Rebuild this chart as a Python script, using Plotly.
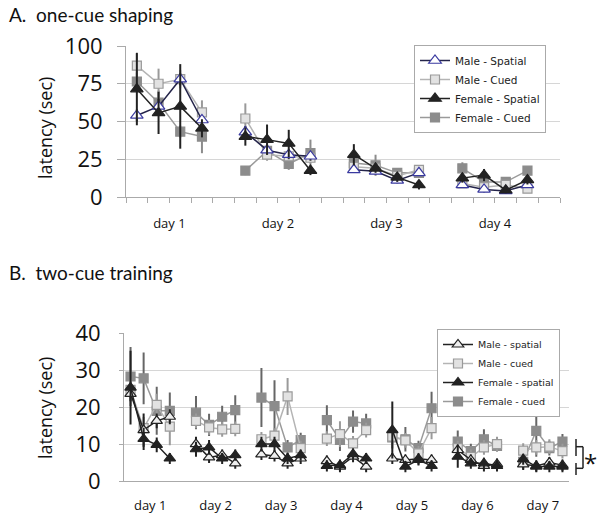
import plotly.graph_objects as go

# ---------------- data ----------------
days_a = ["day 1", "day 2", "day 3", "day 4"]
days_b = ["day 1", "day 2", "day 3", "day 4", "day 5", "day 6", "day 7"]

names_a = ["Male - Spatial", "Male - Cued", "Female - Spatial", "Female - Cued"]
names_b = ["Male - spatial", "Male - cued", "Female - spatial", "Female - cued"]

# Panel A: one-cue shaping (latency, sec); 4 trials per day
a_male_spatial = [[54, 60, 78, 51], [43, 31, 28, 27], [18, 17, 11, 16], [8, 5, 4, 8]]
a_male_cued = [[87, 75, 78, 56], [52, 28, 27, 26], [20, 19, 14, 18], [9, 6.5, 8, 5.5]]
a_female_spatial = [[71.5, 55.7, 60, 45.5], [40, 38, 35.5, 17.5], [28, 19, 13, 8], [12.5, 14.5, 4.5, 11.3]]
a_female_cued = [[76.5, 62.5, 43.3, 40], [17.5, 30.5, 22, 29], [22.5, 21, 16, 16], [19, 10, 10, 17.5]]

a_male_spatial_err = [[4, 5, 4, 3], [4, 3, 3, 3], [2, 2, 2, 2], [2, 2, 2, 2]]
a_male_cued_err = [[8, 10, 6, 8], [10, 4, 3, 3], [2, 2, 2, 2], [2, 2, 2, 2]]
a_female_spatial_err = [[24, 14, 28, 6], [6, 10, 9, 3], [7, 3, 3, 3], [3, 4, 2, 3]]
a_female_cued_err = [[6, 8, 4, 11], [3, 5, 4, 9], [4, 7, 2, 2], [4, 3, 2, 2]]

# Panel B: two-cue training (latency, sec); 4 trials per day
b_male_spatial = [[23.6, 13.8, 16.3, 17.4], [10, 6.4, 7, 4.8], [7.2, 6.8, 4.8, 6.1], [5.4, 3.9, 6.6, 3.9],
                  [6.1, 5.7, 6, 5.7], [8.4, 5.7, 4.1, 4.6], [4.5, 4.1, 5, 4.3]]
b_male_cued = [[24.7, 14.3, 20.6, 14.7], [16.3, 14.5, 14, 14.1], [11.3, 12.3, 22.9, 8.9], [11.5, 12.7, 10.2, 13.8],
               [12, 11, 7.5, 14.3], [8.9, 6.5, 9.1, 10], [8.2, 9.1, 9.3, 8.1]]
b_female_spatial = [[25.3, 11.4, 9.8, 6.1], [8.6, 9.1, 6.1, 7], [10, 10, 6.1, 7], [4.1, 4.3, 7.3, 6.1],
                    [13.8, 3.9, 5.7, 4.1], [6.6, 4.8, 4.8, 4.1], [5.9, 3.9, 3.9, 3.9]]
b_female_cued = [[28.3, 27.8, 19, 19], [18.5, 15.2, 17.4, 19.2], [22.6, 20.3, 9.1, 11.1], [16.5, 11.1, 16.1, 15.6],
                 [11.8, 11.3, 8.9, 19.7], [10.7, 8.1, 11.3, 9.5], [5.2, 13.6, 8.9, 10.7]]

b_male_spatial_err = [[2, 4.5, 2, 2], [2, 1.5, 1.5, 1.5], [1.5, 1.5, 1.5, 1.5], [1.5, 1.5, 1.5, 1.5],
                      [1.5, 1.5, 1.5, 1.5], [1.5, 1.5, 1.5, 1.5], [1.5, 1.5, 1.5, 1.5]]
b_male_cued_err = [[3, 3, 3, 5], [2, 2, 2, 2], [2, 2, 5, 2], [2, 3.5, 2, 2],
                   [2, 2, 2, 3], [2, 2, 2, 2], [2, 2, 2, 2]]
b_female_spatial_err = [[10, 3, 2, 1.5], [2, 2, 1.5, 1.5], [2, 2, 1.5, 1.5], [1.5, 1.5, 1.5, 1.5],
                        [7.7, 1.5, 1.5, 1.5], [3, 1.5, 1.5, 1.5], [1.5, 1.5, 1.5, 1.5]]
b_female_cued_err = [[8, 7, 6.5, 5], [4.5, 3, 3, 4], [8, 7, 2, 2], [4, 3, 3, 2.6],
                     [3, 3.3, 2, 4.5], [3, 2, 2.7, 1.5], [2, 7, 2, 2]]

# ---------------- helpers ----------------
PER_DAY = 5  # 4 trials + 1 blank slot per day


def flatten(days_vals):
    xs, ys = [], []
    for d, vals in enumerate(days_vals):
        for j, v in enumerate(vals):
            xs.append(PER_DAY * d + j)
            ys.append(v)
        xs.append(None)
        ys.append(None)
    return xs, ys


def flatten_err(days_err):
    out = []
    for vals in days_err:
        out.extend(vals)
        out.append(0)
    return out


W, H = 601, 513


def px(x):
    return x / W


def py(y):
    return 1 - y / H


fig = go.Figure()

styles_a = {
    "Male - Spatial": dict(line="#24244a", symbol="triangle-up", fill="white", mline="#3a3aa0", size=11, err="#333333", rank=1),
    "Male - Cued": dict(line="#b4b4b4", symbol="square", fill="#e2e2e2", mline="#9a9a9a", size=9, err="#9a9a9a", rank=2),
    "Female - Spatial": dict(line="#222222", symbol="triangle-up", fill="#222222", mline="#222222", size=11, err="#222222", rank=3),
    "Female - Cued": dict(line="#9a9a9a", symbol="square", fill="#8c8c8c", mline="#8c8c8c", size=9, err="#8c8c8c", rank=4),
}
styles_b = {
    "Male - spatial": dict(line="#222222", symbol="triangle-up", fill="#eeeeee", mline="#222222", size=10, err="#222222", rank=1),
    "Male - cued": dict(line="#b4b4b4", symbol="square", fill="#e2e2e2", mline="#9a9a9a", size=9, err="#9a9a9a", rank=2),
    "Female - spatial": dict(line="#222222", symbol="triangle-up", fill="#222222", mline="#222222", size=10, err="#222222", rank=3),
    "Female - cued": dict(line="#9a9a9a", symbol="square", fill="#8c8c8c", mline="#8c8c8c", size=9, err="#666666", rank=4),
}

series_a = [
    (names_a[3], a_female_cued, a_female_cued_err),
    (names_a[1], a_male_cued, a_male_cued_err),
    (names_a[0], a_male_spatial, a_male_spatial_err),
    (names_a[2], a_female_spatial, a_female_spatial_err),
]
series_b = [
    (names_b[3], b_female_cued, b_female_cued_err),
    (names_b[1], b_male_cued, b_male_cued_err),
    (names_b[0], b_male_spatial, b_male_spatial_err),
    (names_b[2], b_female_spatial, b_female_spatial_err),
]

for name, vals, errs in series_a:
    s = styles_a[name]
    xs, ys = flatten(vals)
    fig.add_trace(go.Scatter(
        x=xs, y=ys, name=name, mode="lines+markers", xaxis="x", yaxis="y",
        legend="legend", legendrank=s["rank"],
        line=dict(color=s["line"], width=1.5),
        marker=dict(symbol=s["symbol"], size=s["size"], color=s["fill"],
                    line=dict(color=s["mline"], width=1.2)),
        error_y=dict(type="data", array=flatten_err(errs), color=s["err"], thickness=2, width=0),
        connectgaps=False,
    ))

for name, vals, errs in series_b:
    s = styles_b[name]
    xs, ys = flatten(vals)
    fig.add_trace(go.Scatter(
        x=xs, y=ys, name=name, mode="lines+markers", xaxis="x2", yaxis="y2",
        legend="legend2", legendrank=s["rank"],
        line=dict(color=s["line"], width=1.5),
        marker=dict(symbol=s["symbol"], size=s["size"], color=s["fill"],
                    line=dict(color=s["mline"], width=1.2)),
        error_y=dict(type="data", array=flatten_err(errs), color=s["err"], thickness=2, width=0),
        connectgaps=False,
    ))

axis_grey = "#aaaaaa"
grid_grey = "#d6d6d6"
tick_font = dict(family="Open Sans, Arial, sans-serif", size=22, color="#111111")
day_font = dict(family="Open Sans, Arial, sans-serif", size=13, color="#111111")

fig.update_layout(
    width=W, height=H,
    margin=dict(l=0, r=0, t=0, b=0, pad=0, autoexpand=False),
    paper_bgcolor="white", plot_bgcolor="white",
    xaxis=dict(
        domain=[px(126), px(560)], range=[-0.5, PER_DAY * len(days_a) - 0.5],
        tickmode="array", tickvals=[PER_DAY * d + 1.5 for d in range(len(days_a))], ticktext=days_a,
        ticks="outside", ticklen=5, tickcolor=axis_grey, tickfont=day_font, ticklabelstandoff=9,
        minor=dict(tickmode="linear", tick0=-0.5, dtick=1, ticks="outside", ticklen=5, tickcolor=axis_grey),
        showline=True, linecolor=axis_grey, showgrid=False, zeroline=False, anchor="y", automargin=False,
    ),
    yaxis=dict(
        domain=[py(197), py(46)], range=[0, 100],
        tickmode="array", tickvals=[0, 25, 50, 75, 100],
        ticks="outside", ticklen=8, tickcolor=axis_grey, tickfont=tick_font, ticklabelstandoff=10,
        showline=True, linecolor=axis_grey, showgrid=True, gridcolor=grid_grey, zeroline=False, anchor="x",
        automargin=False,
    ),
    xaxis2=dict(
        domain=[px(124), px(569)], range=[-0.5, PER_DAY * len(days_b) - 1.5],
        tickmode="array", tickvals=[PER_DAY * d + 1.5 for d in range(len(days_b))], ticktext=days_b,
        ticks="", tickfont=day_font, ticklabelstandoff=12,
        showline=True, linecolor=axis_grey, showgrid=False, zeroline=False, anchor="y2", automargin=False,
    ),
    yaxis2=dict(
        domain=[py(481), py(333.3)], range=[0, 40],
        tickmode="array", tickvals=[0, 10, 20, 30, 40],
        ticks="outside", ticklen=4, tickcolor=axis_grey, tickfont=tick_font, ticklabelstandoff=14,
        showline=True, linecolor=axis_grey, showgrid=True, gridcolor=grid_grey, zeroline=False, anchor="x2",
        automargin=False,
    ),
    legend=dict(
        x=px(414), y=py(45), xanchor="left", yanchor="top",
        bgcolor="white", bordercolor="#aaaaaa", borderwidth=1,
        font=dict(family="DejaVu Sans, Verdana, sans-serif", size=10.5, color="#222222"),
        traceorder="normal",
    ),
    legend2=dict(
        x=px(437), y=py(329), xanchor="left", yanchor="top",
        bgcolor="white", bordercolor="#aaaaaa", borderwidth=1,
        font=dict(family="DejaVu Sans, Verdana, sans-serif", size=9.5, color="#222222"),
        traceorder="normal",
    ),
    showlegend=True,
)

title_font = dict(family="Lato, Open Sans, Arial, sans-serif", size=19, color="#111111")
label_font = dict(family="Open Sans, Arial, sans-serif", size=18, color="#111111")

fig.add_annotation(text="A.\u00a0 one-cue shaping", x=px(7), y=py(15), xref="paper", yref="paper",
                   xanchor="left", yanchor="middle", showarrow=False, font=title_font)
fig.add_annotation(text="B.\u00a0 two-cue training", x=px(7), y=py(272), xref="paper", yref="paper",
                   xanchor="left", yanchor="middle", showarrow=False, font=title_font)
fig.add_annotation(text="latency (sec)", x=px(45), y=py(128), xref="paper", yref="paper",
                   textangle=-90, xanchor="center", yanchor="middle", showarrow=False, font=label_font)
fig.add_annotation(text="latency (sec)", x=px(45), y=py(408), xref="paper", yref="paper",
                   textangle=-90, xanchor="center", yanchor="middle", showarrow=False, font=label_font)

# significance bracket and asterisk (panel B)
br = dict(color="#222222", width=1.5)
for (x0, y0, x1, y1) in [(576, 439, 576, 456), (576, 463, 576, 475),
                         (576, 446.7, 583, 446.7), (583, 446.7, 583, 468.3), (576, 468.3, 583, 468.3)]:
    fig.add_shape(type="line", xref="paper", yref="paper", x0=px(x0), y0=py(y0), x1=px(x1), y1=py(y1), line=br)
fig.add_annotation(text="*", x=px(590), y=py(462), xref="paper", yref="paper",
                   xanchor="center", yanchor="middle", showarrow=False,
                   font=dict(family="Open Sans, Arial, sans-serif", size=24, color="#111111"))

fig.write_html(
    "out.html",
    config={"displayModeBar": False},
    post_script="document.body.style.margin='0';document.body.style.padding='0';document.body.style.overflow='hidden';",
)
